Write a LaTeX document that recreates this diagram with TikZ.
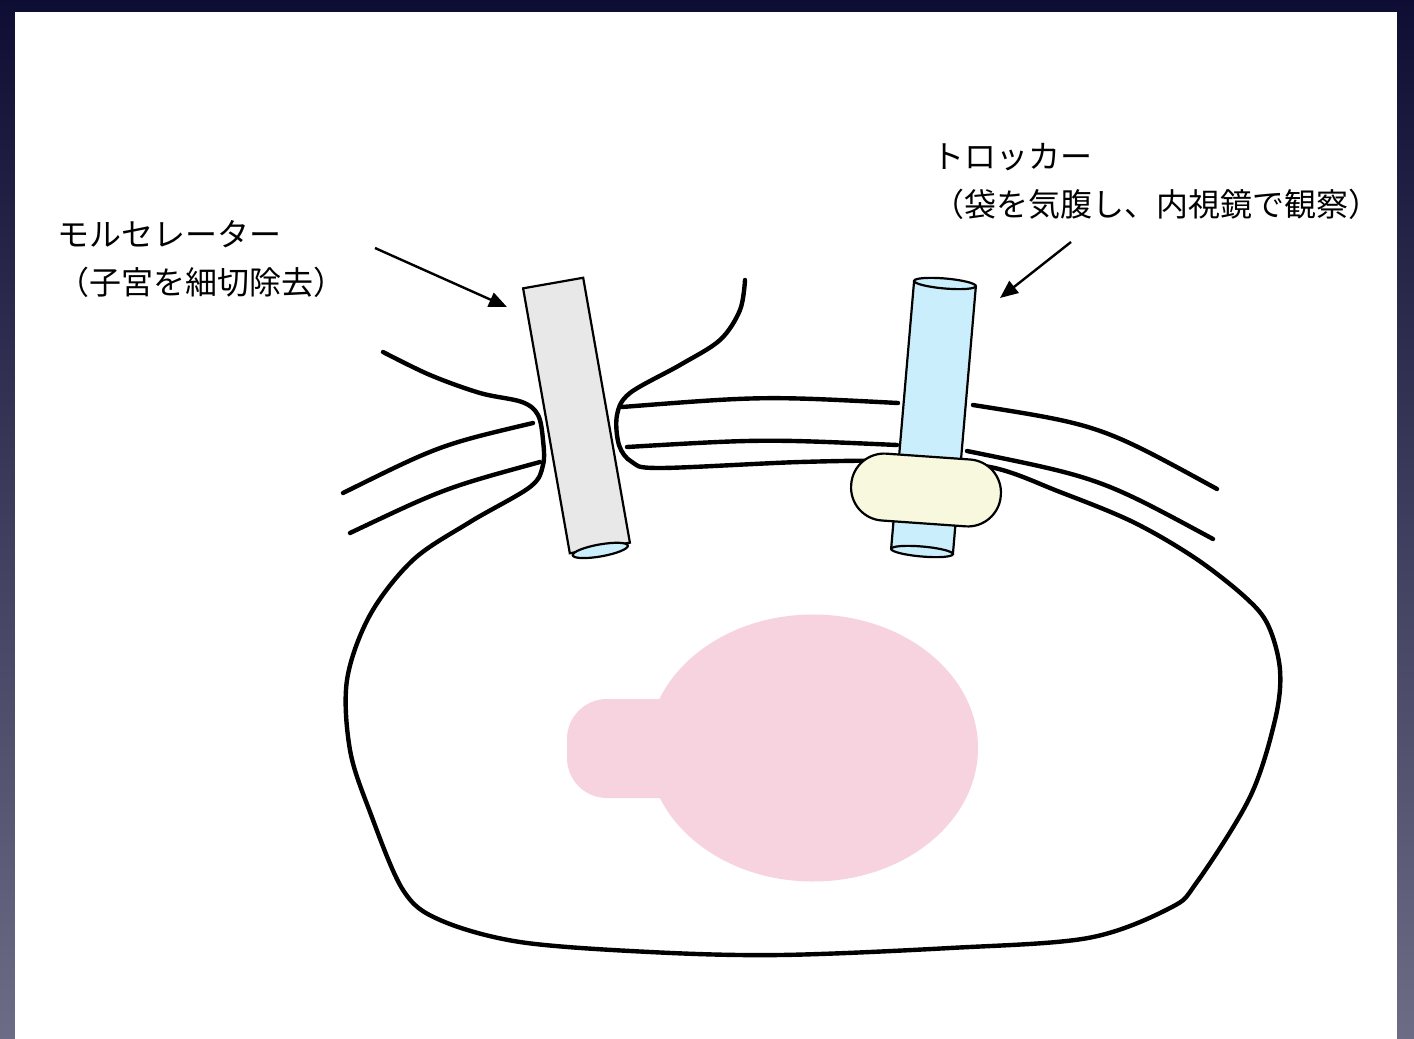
\documentclass[tikz,border=0pt]{standalone}
\usepackage{fontspec}
\usepackage{tikz}
\usetikzlibrary{arrows.meta}
\newfontfamily\jpfont{Noto Sans CJK JP}
\definecolor{slidetop}{HTML}{0E0E34}
\definecolor{slidebot}{HTML}{6C6C86}
\definecolor{tubegray}{HTML}{E8E8E8}
\definecolor{tubeblue}{HTML}{CBEEFC}
\definecolor{padyellow}{HTML}{F7F8DD}
\definecolor{uterus}{HTML}{F7D3DF}
\tikzset{
  wall/.style={line width=4.4pt,line cap=round},
  bag/.style={wall,line join=round},
  tube/.style={draw=black,line width=2.2pt},
  pad/.style={tube,fill=padyellow},
  lbl/.style={inner sep=0pt,align=left,anchor=north west,font=\jpfont\fontsize{32}{48}\selectfont},
  ar/.style={-{Triangle[length=18pt,width=15pt]},line width=2.4pt},
}

\begin{document}
\begin{tikzpicture}[x=1pt,y=-1pt]
  \useasboundingbox (0,0) rectangle (1414,1039);
  \shade[top color=slidetop,bottom color=slidebot] (0,0) rectangle (1414,1039);
  \fill[white] (15,12) rectangle (1397,1039);

  % labels
  \node[lbl] (morcLabel) at (57,220) {モルセレーター\\（子宮を細切除去）};
  \node[lbl] (trocLabel) at (932,143) {トロッカー\\（袋を気腹し、内視鏡で観察）};
  \coordinate (morcFrom) at (375,248);
  \coordinate (morcTo) at (507,307);
  \coordinate (trocFrom) at (1071,242);
  \coordinate (trocTo) at (1000,298);
  \draw[ar] (morcFrom) -- (morcTo);
  \draw[ar] (trocFrom) -- (trocTo);

  % uterus inside the bag
  \fill[uterus] (813,748) ellipse [x radius=165,y radius=133.5];
  \fill[uterus,rounded corners=40pt] (567,699) rectangle (700,798);

  % abdominal wall, cut where the instruments go through
  \draw[wall] (343,493) .. controls (440,445) .. (533,423);
  \draw[wall] (622,407) .. controls (763,396) .. (898,403);
  \draw[wall] (973,405) .. controls (1100,425) .. (1217,489);
  \draw[wall] (350,533) .. controls (445,488) .. (540,462);
  \draw[wall] (627,447) .. controls (763,439) .. (897,445);
  \draw[wall] (967,451) .. controls (1100,478) .. (1213,539);

  % bag, both necks pulled out through the wall
  \draw[bag] plot[smooth,tension=0.55] coordinates {
    (383,352) (430,375) (480,393) (522,402) (538,415) (543,440) (543,465)
    (530,487) (470,522) (413,560) (370,615) (347,680) (350,750) (370,812)
    (403,890) (440,920) (520,942) (650,952) (780,955) (950,948) (1088,938)
    (1170,908) (1197,882) (1250,797) (1275,720) (1280,670) (1268,625)
    (1245,597) (1195,558) (1133,522) (1060,492) (990,467) (900,461)
    (800,462) (660,468) (632,462) (619,445) (617,415) (630,393) (680,365)
    (720,340) (740,310) (745,280)};

  % morcellator
  \begin{scope}[shift={(576.5,415.5)},rotate=10]
    \draw[tube,fill=tubegray] (-30.5,-134.5) rectangle (30.5,134.5);
    \draw[tube,fill=tubeblue] (0,137) ellipse [x radius=28,y radius=6];
  \end{scope}

  % trocar with its retaining balloon
  \begin{scope}[shift={(933.5,417.5)},rotate=-4.9]
    \fill[tubeblue] (-31,-134.5) rectangle (31,134.5);
    \draw[tube] (-31,-134.5) -- (-31,134.5) (31,-134.5) -- (31,134.5);
    \draw[tube,fill=tubeblue] (0,-134.5) ellipse [x radius=31,y radius=5];
    \draw[tube,fill=tubeblue] (0,134.5) ellipse [x radius=31,y radius=5];
  \end{scope}
  \begin{scope}[shift={(926,490)},rotate=-4]
    \draw[pad,rounded corners=33pt] (-75,-33.5) rectangle (75,33.5);
  \end{scope}
\end{tikzpicture}
\end{document}
